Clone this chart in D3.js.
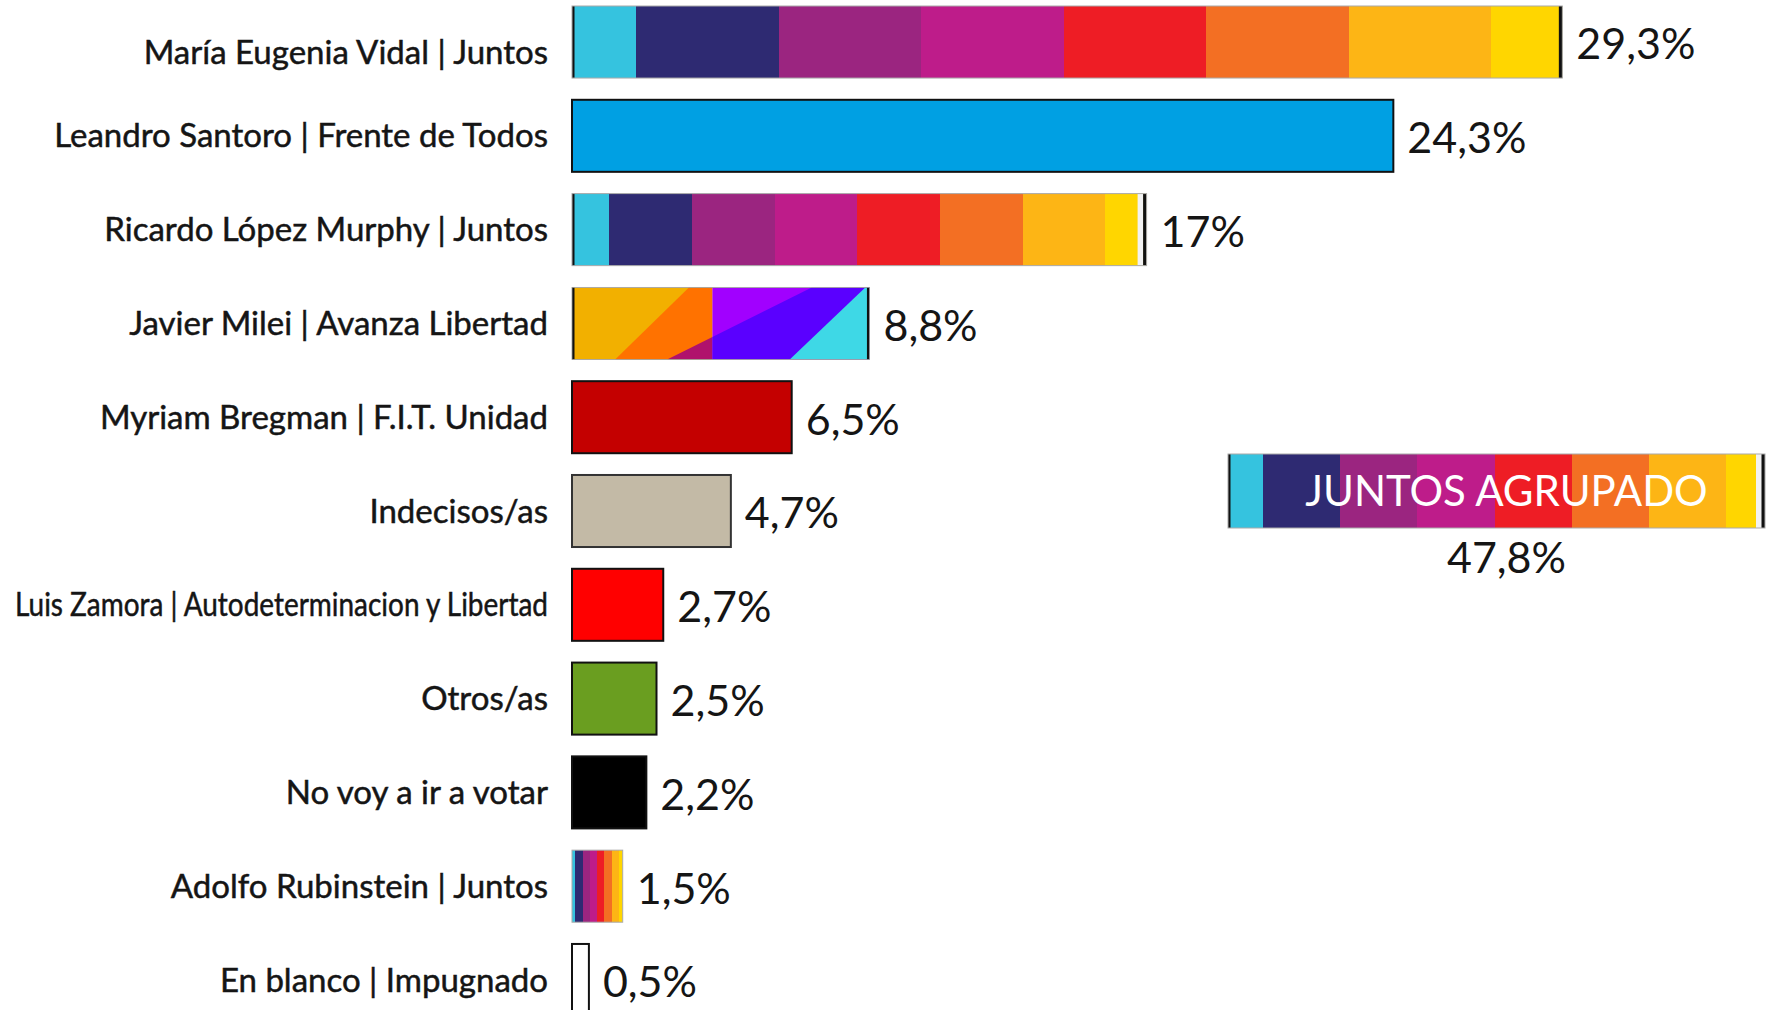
<!DOCTYPE html>
<meta charset="utf-8">
<style>
body { margin: 0; background: #fff; }
svg { display: block; font-family: Lato, "Open Sans", sans-serif; }
.label { font-size: 33px; fill: #151515; stroke: #151515; stroke-width: 0.5; text-anchor: end; }
.value { font-size: 43px; fill: #151515; }
</style>
<svg width="1772" height="1010"></svg>
<script src="https://cdn.jsdelivr.net/npm/d3@7"></script>
<script>
// data
var names = [
  "María Eugenia Vidal | Juntos",
  "Leandro Santoro | Frente de Todos",
  "Ricardo López Murphy | Juntos",
  "Javier Milei | Avanza Libertad",
  "Myriam Bregman | F.I.T. Unidad",
  "Indecisos/as",
  "Luis Zamora | Autodeterminacion y Libertad",
  "Otros/as",
  "No voy a ir a votar",
  "Adolfo Rubinstein | Juntos",
  "En blanco | Impugnado"
];
var values = [29.3, 24.3, 17, 8.8, 6.5, 4.7, 2.7, 2.5, 2.2, 1.5, 0.5];
var valueLabels = ["29,3%", "24,3%", "17%", "8,8%", "6,5%", "4,7%", "2,7%", "2,5%", "2,2%", "1,5%", "0,5%"];

var groupName = "JUNTOS AGRUPADO";
var groupValue = 47.8;
var groupLabel = "47,8%";

// look of each bar
var fills = ["juntos", "#00a0e3", "juntos", "milei", "#c40000", "#c3baa6", "#ff0000", "#6a9e20", "#000000", "juntos", "#ffffff"];
var juntosColors = ["#35c3df", "#2e2a72", "#9b2580", "#be1c8a", "#ee1d25", "#f36f23", "#fdb515", "#ffd600"];
var juntosUnits  = [0.45, 1, 1, 1, 1, 1, 1, 0.5];

var svg = d3.select("svg"),
    width = +svg.attr("width"),
    height = +svg.attr("height");

var x0 = 572;
var x = d3.scaleLinear().domain([0, 1]).range([0, 33.8]);

var y = d3.scaleBand()
    .domain(names)
    .range([6, 1016])
    .paddingInner(0.232)
    .paddingOuter(0);

var defs = svg.append("defs");

// stripes of the Juntos bars as a hard-stop gradient
var grad = defs.append("linearGradient").attr("id", "juntos")
    .attr("x1", 0).attr("x2", 1).attr("y1", 0).attr("y2", 0);
var total = d3.sum(juntosUnits), acc = 0;
juntosColors.forEach(function(c, i) {
  grad.append("stop").attr("offset", acc / total).attr("stop-color", c);
  acc += juntosUnits[i];
  grad.append("stop").attr("offset", acc / total).attr("stop-color", c);
});

function juntosBar(g, x1, y1, w, h, edges, whiteEdge) {
  g.append("rect").attr("x", x1).attr("y", y1).attr("width", w).attr("height", h)
      .attr("fill", "url(#juntos)");
  if (whiteEdge) {
    g.append("rect").attr("x", x1 + w - 9).attr("y", y1).attr("width", 6).attr("height", h)
        .attr("fill", "#f2f2f2");
  }
  if (edges) {
    g.append("rect").attr("x", x1).attr("y", y1).attr("width", 2.5).attr("height", h).attr("fill", "#111");
    g.append("rect").attr("x", x1 + w - 3.5).attr("y", y1).attr("width", 3.5).attr("height", h).attr("fill", "#111");
  }
  g.append("rect").attr("x", x1).attr("y", y1).attr("width", w).attr("height", h)
      .attr("fill", "none").attr("stroke", "#aaa").attr("stroke-width", 1);
}

function mileiBar(g, x1, y1, w, h) {
  var clip = defs.append("clipPath").attr("id", "milei-clip");
  clip.append("rect").attr("x", x1).attr("y", y1).attr("width", w).attr("height", h);
  var mg = g.append("g").attr("clip-path", "url(#milei-clip)");
  var pieces = [
    ["#f2b000", [[0, 0], [0.472, 0], [0.472, 1], [0, 1]]],
    ["#ff7200", [[0.393, 0], [0.472, 0], [0.472, 1], [0.145, 1]]],
    ["#b0126c", [[0.320, 1], [0.472, 0.687], [0.472, 1]]],
    ["#a100ff", [[0.472, 0], [1, 0], [1, 1], [0.472, 1]]],
    ["#5a00ff", [[0.472, 0.687], [0.806, 0], [1, 0], [1, 1], [0.472, 1]]],
    ["#3ed8e6", [[0.986, 0], [1, 0], [1, 1], [0.732, 1]]]
  ];
  mg.selectAll("polygon").data(pieces).enter().append("polygon")
      .attr("fill", function(d) { return d[0]; })
      .attr("points", function(d) {
        return d[1].map(function(p) { return (x1 + p[0] * w) + "," + (y1 + p[1] * h); }).join(" ");
      });
  g.append("rect").attr("x", x1).attr("y", y1).attr("width", 2.5).attr("height", h).attr("fill", "#111");
  g.append("rect").attr("x", x1 + w - 2.5).attr("y", y1).attr("width", 2.5).attr("height", h).attr("fill", "#111");
  g.append("rect").attr("x", x1).attr("y", y1).attr("width", w).attr("height", h)
      .attr("fill", "none").attr("stroke", "#999").attr("stroke-width", 0.8);
}

var rows = svg.append("g").selectAll("g")
    .data(names)
  .enter().append("g");

rows.each(function(name, i) {
  var g = d3.select(this),
      yy = y(name),
      h = y.bandwidth(),
      w = x(values[i]);
  if (fills[i] === "juntos") {
    juntosBar(g, x0, yy, w, h, i !== 9, i === 2);
  } else if (fills[i] === "milei") {
    mileiBar(g, x0, yy, w, h);
  } else {
    g.append("rect").attr("x", x0).attr("y", yy).attr("width", w).attr("height", h)
        .attr("fill", fills[i]).attr("stroke", i === 5 ? "#333" : "#111").attr("stroke-width", 2);
  }

  var lab = g.append("text").attr("class", "label")
      .attr("x", 548).attr("y", yy + h / 2 + (i === 0 ? 10 : 0)).attr("dy", "0.35em")
      .text(name);
  if (i === 6) lab.attr("textLength", 533).attr("lengthAdjust", "spacingAndGlyphs");

  g.append("text").attr("class", "value")
      .attr("x", x0 + w + 14).attr("y", yy + h / 2 + 2).attr("dy", "0.36em")
      .text(valueLabels[i]);
});

// grouped Juntos box
var gx = 1228, gy = 454, gw = 537, gh = 74;
var grp = svg.append("g");
juntosBar(grp, gx, gy, gw, gh, true, true);
grp.append("text")
    .attr("x", gx + gw / 2 + 10).attr("y", gy + gh / 2).attr("dy", "0.36em")
    .attr("text-anchor", "middle").attr("fill", "#fff")
    .style("font-size", "42px")
    .text(groupName);
grp.append("text").attr("class", "value")
    .attr("x", gx + gw / 2 + 10).attr("y", gy + gh + 30).attr("dy", "0.36em")
    .attr("text-anchor", "middle")
    .attr("data-value", groupValue)
    .text(groupLabel);
</script>
